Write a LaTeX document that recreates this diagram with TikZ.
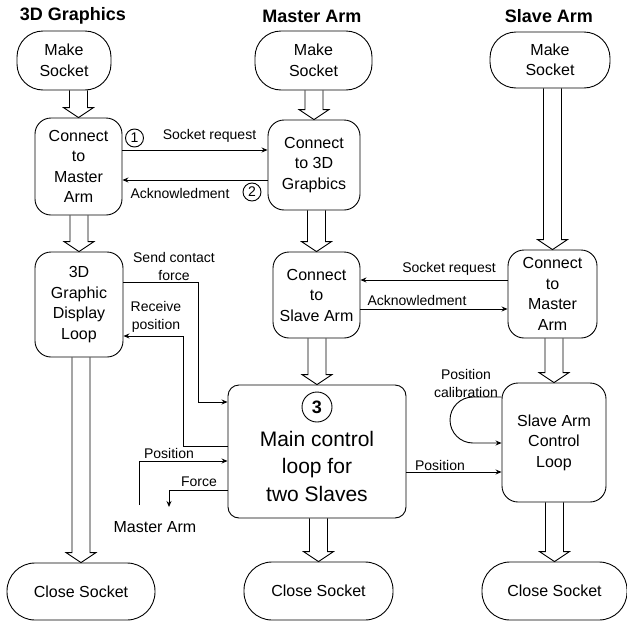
\documentclass[tikz,border=0pt]{standalone}
\usepackage{fontspec}
\setmainfont{Liberation Sans}
\usetikzlibrary{arrows.meta,calc}
\begin{document}
\begin{tikzpicture}[x=1pt,y=-1pt, line width=0.9pt,
  nf/.style={font=\fontsize{16}{20.5}\selectfont},
  lf/.style={font=\fontsize{14}{18}\selectfont},
  ttl/.style={font=\fontsize{18}{20}\selectfont\bfseries, inner sep=0pt},
  sock/.style={draw, rounded corners=26pt, align=center, inner sep=0pt, nf},
  box/.style={draw, rounded corners=16pt, align=center, inner sep=0pt, nf},
  txt/.style={align=center, inner sep=0pt, nf},
  lab/.style={align=center, inner sep=0pt, lf},
  num/.style={draw, circle, inner sep=0pt, minimum size=18pt, font=\fontsize{14}{14}\selectfont},
  arr/.style={-{Stealth[length=6pt,width=5pt]}},
  barrow/.style={to path={let \p1=(\tikztostart), \p2=(\tikztotarget) in
     (\x2-9pt,\y1) -- (\x2-9pt,\y2+10pt) -- (\x2-15pt,\y2+10pt) -- (\x2,\y2)
     -- (\x2+15pt,\y2+10pt) -- (\x2+9pt,\y2+10pt) -- (\x2+9pt,\y1)}}]
\useasboundingbox (0,0) rectangle (627,624);

% titles
\node[ttl] (t1) at (73,16) {3D Graphics};
\node[ttl] (t2) at (312,16) {Master Arm};
\node[ttl] (t3) at (549,16) {Slave Arm};

% left column
\node[sock, minimum width=94pt, minimum height=59pt] (ms1) at (64,60.5) {Make\\Socket};
\node[box, minimum width=87pt, minimum height=97pt] (c1) at (78.5,166.5) {Connect\\to\\Master\\Arm};
\node[box, minimum width=88pt, minimum height=105pt] (g1) at (79,304.5) {3D\\Graphic\\Display\\Loop};
\node[sock, rounded corners=28pt, minimum width=148pt, minimum height=57pt] (cs1) at (81,591.5) {Close Socket};

% middle column
\node[sock, minimum width=117pt, minimum height=59pt] (ms2) at (313.5,60.5) {Make\\Socket};
\node[box, minimum width=92pt, minimum height=90pt] (c2) at (314,165) {Connect\\to 3D\\Grapbics};
\node[box, minimum width=87pt, minimum height=86pt] (c3) at (316.5,295) {Connect\\to\\Slave Arm};
\node[draw, rounded corners=11pt, minimum width=178pt, minimum height=133pt] (mb) at (317,451.5) {};
\node[num, minimum size=30pt, font=\fontsize{18}{18}\selectfont\bfseries] (n3) at (317,407) {3};
\node[align=center, inner sep=0pt, font=\fontsize{21}{27.5}\selectfont] (mt) at (317,466) {Main control\\loop for\\two Slaves};
\node[sock, rounded corners=28pt, minimum width=149pt, minimum height=58pt] (cs2) at (318.5,591) {Close Socket};

% right column
\node[sock, minimum width=120pt, minimum height=56pt] (ms3) at (550,60) {Make\\Socket};
\node[box, minimum width=89pt, minimum height=88pt] (c4) at (552.5,294) {Connect\\to\\Master\\Arm};
\node[box, minimum width=104pt, minimum height=119pt] (sl) at (554,442.5) {Slave Arm\\Control\\Loop};
\node[sock, rounded corners=28pt, minimum width=145pt, minimum height=58pt] (cs3) at (554.5,591) {Close Socket};

% block arrows
\draw[barrow] (ms1.south) to (c1.north);
\draw[barrow] (c1.south) to (g1.north);
\draw[barrow] (g1.south) to (cs1.north);
\draw[barrow] (ms2.south) to (c2.north);
\draw[barrow] (c2.south) to (c3.north);
\draw[barrow] (c3.south) to (mb.north);
\draw[barrow] (mb.south) to (cs2.north);
\draw[barrow] (ms3.south) to (c4.north);
\draw[barrow] (c4.south) to (sl.north);
\draw[barrow] (sl.south) to (cs3.north);

% handshake connectors
\draw[arr] (c1.east |- 0,150) -- (c2.west |- 0,150);
\draw[arr] (c2.west |- 0,180) -- (c1.east |- 0,180);
\draw[arr] (c4.west |- 0,280) -- (c3.east |- 0,280);
\draw[arr] (c3.east |- 0,309) -- (c4.west |- 0,309);
\node[num] (n1) at (134.5,138) {1};
\node[lab] (l1) at (209.5,136) {Socket request};
\node[lab] (l2) at (180,193) {Acknowledment};
\node[num] (n2) at (252,192) {2};
\node[lab] (l3) at (449,269) {Socket request};
\node[lab] (l4) at (417,300) {Acknowledment};

% main loop connectors
\draw[arr] (g1.east |- 0,282) -- (198,282) -- (198,402) -- (mb.west |- 0,402);
\draw[arr] (mb.west |- 0,446) -- (183,446) -- (183,336) -- (g1.east |- 0,336);
\coordinate (mastA) at (139,505);
\coordinate (mastB) at (169,507);
\draw[arr] (mastA) -- (139,461) -- (mb.west |- 0,461);
\draw[arr] (mb.west |- 0,490) -- (169,490) -- (mastB);
\draw[arr] (mb.east |- 0,472) -- (sl.west |- 0,472);
\draw[arr] (sl.west |- 0,397) -- (473,397) arc[start angle=90, end angle=270, radius=23pt] -- (sl.west |- 0,443);

\node[lab] (l5) at (174,266) {Send contact\\force};
\node[lab] (l6) at (156,317) {Receive\\position};
\node[lab] (l7) at (169,453) {Position};
\node[lab] (l8) at (199,482) {Force};
\node[txt] (ma) at (155,527) {Master Arm};
\node[lab] (l9) at (440,465) {Position};
\node[lab] (l10) at (466,383) {Position\\calibration};
\end{tikzpicture}
\end{document}
